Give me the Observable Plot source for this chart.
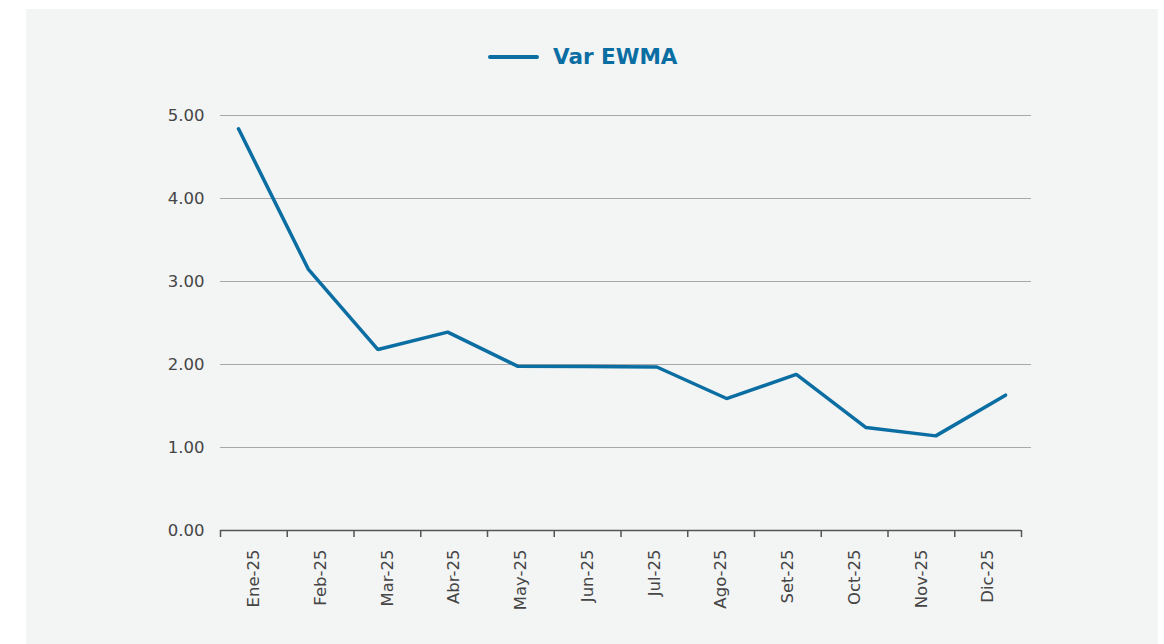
<!DOCTYPE html>
<html>
<head>
<meta charset="utf-8">
<script src="https://cdn.jsdelivr.net/npm/d3@7"></script>
<script src="https://cdn.jsdelivr.net/npm/@observablehq/plot@0.6"></script>
<style>
  html, body { margin: 0; padding: 0; background: #ffffff; }
  #panel { position: absolute; left: 26px; top: 9px; width: 1132px; height: 635px; background: #f3f4f4; overflow: hidden; }
  #legend { position: relative; height: 80px; }
  #legend .swatch { position: absolute; left: 462px; top: 46px; width: 51px; height: 4px; background: #0b6ea3; border-radius: 2px; }
  #legend .label { position: absolute; left: 527px; top: 37px; font-family: "DejaVu Sans", sans-serif; font-weight: bold; font-size: 21.5px; line-height: 22px; color: #0b6ea3; white-space: nowrap; }
  #chart { position: relative; width: 1132px; height: 555px; }
  #chart svg { position: absolute; left: 0; top: 0; }
</style>
</head>
<body>
<div id="panel">
  <div id="legend"><span class="swatch"></span><span class="label">Var EWMA</span></div>
  <div id="chart"></div>
</div>
<script>
const seriesName = "Var EWMA";
const months = ["Ene-25", "Feb-25", "Mar-25", "Abr-25", "May-25", "Jun-25", "Jul-25", "Ago-25", "Set-25", "Oct-25", "Nov-25", "Dic-25"];
const varEwma = [4.84, 3.15, 2.18, 2.39, 1.98, 1.975, 1.97, 1.59, 1.88, 1.24, 1.14, 1.63];
const yTicks = [0, 1, 2, 3, 4, 5];

const data = months.map((m, i) => ({month: m, value: varEwma[i]}));
const W = 1132, H = 555;
const yScale = {domain: [0, 5], range: [441, 26]};
const font = "DejaVu Sans, sans-serif";

// Base layer: grid, axes and category labels (12 bands between 13 ticks)
const base = Plot.plot({
  width: W, height: H,
  marginLeft: 194, marginRight: 127, marginTop: 26, marginBottom: 114,
  style: {background: "transparent", fontFamily: font, fontSize: "16.5px", color: "#454545"},
  x: {type: "linear", domain: [0, months.length], range: [194, 995]},
  y: yScale,
  marks: [
    Plot.ruleY(yTicks.filter(d => d > 0), {stroke: "#a8a8a8", strokeWidth: 1}),
    Plot.axisY(yTicks, {tickSize: 0, tickPadding: 16, tickFormat: d3.format(".2f"), label: null, fill: "#454545"}),
    Plot.ruleY([0], {x1: 0, x2: months.length, stroke: "#555", strokeWidth: 1.5}),
    Plot.axisX(d3.range(months.length + 1), {tickSize: 7, tickFormat: () => "", label: null, stroke: "#555", strokeWidth: 1.5}),
    Plot.axisX(months.map((m, i) => i + 0.5), {tickSize: 0, tickPadding: 19, tickRotate: -90, tickFormat: d => months[Math.floor(d)], label: null, fill: "#454545"})
  ]
});

// Line layer: point scale over the months
const line = Plot.plot({
  width: W, height: H,
  marginLeft: 194, marginRight: 127, marginTop: 26, marginBottom: 114,
  style: {background: "transparent", fontFamily: font},
  x: {type: "point", domain: months, range: [212, 979], padding: 0, round: false, axis: null},
  y: {...yScale, axis: null},
  marks: [
    Plot.line(data, {x: "month", y: "value", stroke: "#0b6ea3", strokeWidth: 3.5, strokeLinejoin: "miter"})
  ]
});

const chart = document.getElementById("chart");
chart.appendChild(base);
chart.appendChild(line);
</script>
</body>
</html>
